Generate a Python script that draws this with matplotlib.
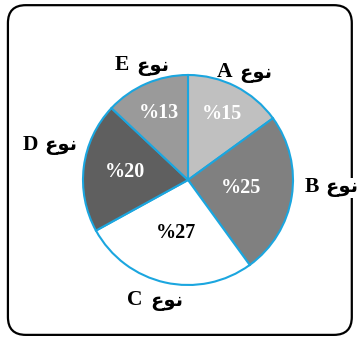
import numpy as np
import matplotlib
matplotlib.use('Agg')
import matplotlib.pyplot as plt
from matplotlib.patches import FancyBboxPatch

# slice data (clockwise from the top)
categories = ['A', 'B', 'C', 'D', 'E']
shares = [15, 25, 27, 20, 13]
colors = ['#c0c0c0', '#808080', '#ffffff', '#5f5f5f', '#9a9a9a']
pct_colors = ['white', 'white', 'black', 'white', 'white']

# "نوع" in presentation forms, visual order (matplotlib does no shaping)
noa = '\ufec9\ufeee\ufee7'

label_dist = [1.16, 1.36, 1.19, 1.36, 1.18]
label_turn = [-0.6, 6.2, -2.8, -7.0, -1.0]   # degrees off the slice middle
pct_dist = [0.71, 0.51, 0.52, 0.60, 0.70]

plt.rcParams['font.family'] = ['Liberation Serif', 'DejaVu Sans']
plt.rcParams['font.weight'] = 'bold'

fig = plt.figure(figsize=(3.6, 3.38), dpi=100)
ax = fig.add_axes([0, 0, 1, 1])

wedges, _ = ax.pie(shares, colors=colors, startangle=90, counterclock=False,
                   radius=1, center=(0, 0),
                   wedgeprops=dict(edgecolor='#1ba6df', linewidth=1.5))

for w, cat, ld, lt, pd, pc, val in zip(wedges, categories, label_dist, label_turn,
                                       pct_dist, pct_colors, shares):
  mid = (w.theta1 + w.theta2) / 2
  ang = np.deg2rad(mid + lt)
  pos = (ld * np.cos(ang), ld * np.sin(ang))
  # latin letter on the left, arabic word on the right
  ax.annotate(cat, pos, xytext=(-12, 0), textcoords='offset pixels',
              ha='right', va='center', fontsize=15.5, fontweight='bold', color='black',
              zorder=5)
  # the right-hand label sits over the frame line, so blank it out behind the word
  box = dict(boxstyle='square,pad=0.05', facecolor='white', edgecolor='none') if pos[0] > 1.2 else None
  ax.annotate(noa, pos, xytext=(-5, -1), textcoords='offset pixels',
              ha='left', va='center', fontsize=14, fontweight='bold', color='black',
              family='DejaVu Sans', zorder=5, bbox=box)
  ang = np.deg2rad(mid)
  ax.text(pd * np.cos(ang), pd * np.sin(ang), '%' + str(val),
          ha='center', va='center', fontsize=14.5, fontweight='bold', color=pc)

# outer rounded frame
ax.add_patch(FancyBboxPatch((-1.715, -1.475), 3.275, 3.14,
                            boxstyle='round,pad=0,rounding_size=0.17',
                            facecolor='none', edgecolor='black', linewidth=1.6,
                            transform=ax.transData, clip_on=False, zorder=1))

ax.set_xlim(-188 / 105, 172 / 105)
ax.set_ylim(-158 / 105, 180 / 105)
ax.set_aspect('equal')
ax.axis('off')

fig.savefig('out.png', dpi=100)
